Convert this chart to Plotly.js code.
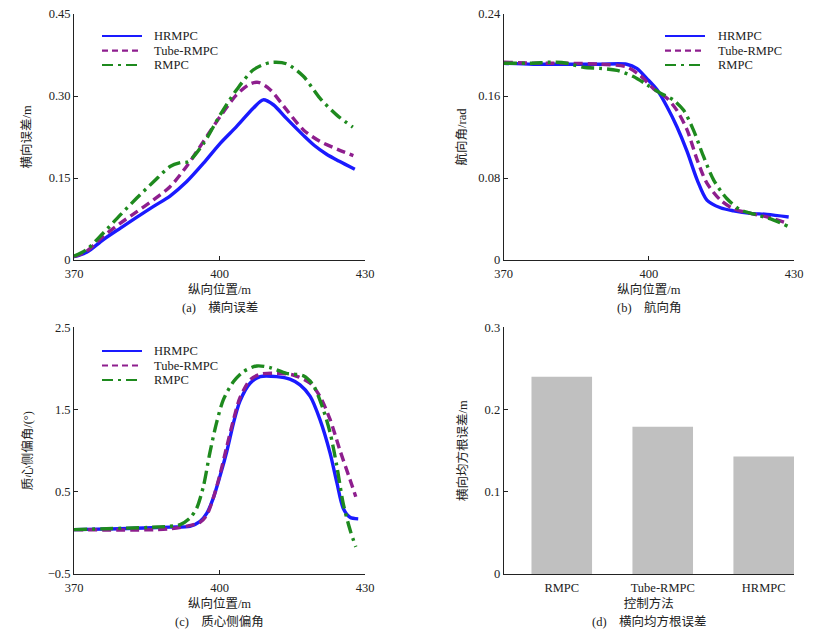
<!DOCTYPE html>
<html>
<head>
<meta charset="utf-8">
<script src="https://cdn.plot.ly/plotly-3.0.1.min.js"></script>
<style>html,body{margin:0;padding:0;background:#fff;}#chart{width:825px;height:643px;}</style>
</head>
<body>
<div id="chart"></div>
<script>
// ---------- data ----------
const seriesNames = ["HRMPC", "Tube-RMPC", "RMPC"];

// (a) lateral error
const aX_hrmpc = [370, 372.6, 376.0, 379.5, 382.9, 386.4, 389.8, 393.2, 396.7, 400.1, 403.5, 407.0, 409.0, 411.1, 413.8, 417.3, 419.5, 422.0, 424.6, 427.9];
const aY_hrmpc = [0.006, 0.014, 0.037, 0.058, 0.078, 0.098, 0.117, 0.143, 0.177, 0.213, 0.244, 0.278, 0.293, 0.284, 0.259, 0.228, 0.210, 0.194, 0.181, 0.166];
const aX_tube = [370, 372.6, 376.0, 379.5, 382.9, 386.4, 389.8, 393.2, 396.7, 400.1, 403.5, 406.3, 408.0, 410.4, 413.8, 417.3, 420.7, 424.2, 427.6];
const aY_tube = [0.006, 0.016, 0.043, 0.067, 0.088, 0.110, 0.134, 0.171, 0.217, 0.262, 0.302, 0.322, 0.325, 0.312, 0.275, 0.238, 0.217, 0.203, 0.191];
const aX_rmpc = [370, 372.6, 376.0, 379.5, 382.9, 386.4, 389.8, 391.9, 393.6, 396.7, 400.1, 403.5, 407.0, 410.4, 413.8, 417.3, 420.7, 424.2, 427.5];
const aY_rmpc = [0.007, 0.019, 0.049, 0.082, 0.113, 0.143, 0.171, 0.178, 0.180, 0.213, 0.265, 0.311, 0.348, 0.361, 0.359, 0.336, 0.296, 0.265, 0.243];

// (b) heading angle
const bX_hrmpc = [370, 376.1, 383.0, 389.9, 395.4, 397.5, 399.6, 401.7, 403.7, 405.8, 407.9, 410.0, 412.0, 414.8, 417.5, 421.0, 424.4, 428.9];
const bY_hrmpc = [0.192, 0.191, 0.191, 0.191, 0.191, 0.187, 0.177, 0.166, 0.150, 0.130, 0.106, 0.078, 0.0585, 0.051, 0.048, 0.0455, 0.0445, 0.042];
const bX_tube = [370, 376.1, 379.6, 383.0, 389.9, 395.4, 398.2, 401.0, 403.7, 405.8, 407.9, 410.0, 412.0, 414.8, 417.5, 421.0, 424.4, 428.6];
const bY_tube = [0.193, 0.192, 0.192, 0.192, 0.191, 0.1885, 0.180, 0.167, 0.158, 0.146, 0.127, 0.0975, 0.075, 0.0585, 0.050, 0.0455, 0.042, 0.036];
const bX_rmpc = [370, 376.1, 379.6, 383.0, 386.5, 389.9, 393.4, 396.8, 399.6, 402.3, 405.1, 407.2, 409.2, 411.3, 413.4, 416.1, 418.9, 422.3, 425.8, 428.7];
const bY_rmpc = [0.192, 0.192, 0.193, 0.192, 0.188, 0.187, 0.185, 0.179, 0.171, 0.163, 0.156, 0.146, 0.127, 0.101, 0.078, 0.060, 0.049, 0.044, 0.039, 0.033];

// (c) sideslip angle
const cX_hrmpc = [370, 379.5, 389.8, 393.9, 396.0, 397.4, 398.7, 400.1, 401.5, 402.9, 404.2, 406.3, 408.4, 411.8, 414.5, 416.6, 418.7, 420.7, 422.8, 424.2, 425.5, 426.9, 428.6];
const cY_hrmpc = [0.04, 0.05, 0.07, 0.08, 0.14, 0.24, 0.42, 0.69, 0.99, 1.34, 1.60, 1.82, 1.90, 1.90, 1.87, 1.80, 1.66, 1.38, 0.97, 0.61, 0.30, 0.19, 0.17];
const cX_tube = [370, 389.8, 396.0, 397.4, 398.7, 400.1, 401.5, 402.9, 404.2, 406.3, 408.4, 411.8, 415.2, 418.7, 420.7, 422.8, 424.8, 426.9, 428.1];
const cY_tube = [0.04, 0.05, 0.13, 0.22, 0.42, 0.71, 1.05, 1.38, 1.64, 1.86, 1.93, 1.94, 1.92, 1.82, 1.66, 1.38, 1.01, 0.65, 0.44];
const cX_rmpc = [370, 389.8, 391.9, 393.9, 395.3, 396.7, 398.0, 399.4, 400.8, 402.9, 404.9, 407.7, 410.4, 413.8, 417.3, 419.3, 421.4, 422.8, 424.2, 425.5, 426.9, 428.1];
const cY_rmpc = [0.04, 0.08, 0.10, 0.18, 0.30, 0.57, 0.97, 1.34, 1.62, 1.84, 1.96, 2.03, 2.01, 1.94, 1.91, 1.80, 1.50, 1.22, 0.81, 0.36, 0.04, -0.17];

// (d) lateral RMS error
const dCategories = ["RMPC", "Tube-RMPC", "HRMPC"];
const dValues = [0.240, 0.179, 0.143];

// tick labels
const xTicks = [370, 400, 430];
const aTicks = [0, 0.15, 0.30, 0.45];
const aTickText = ["0", "0.15", "0.30", "0.45"];
const bTicks = [0, 0.08, 0.16, 0.24];
const bTickText = ["0", "0.08", "0.16", "0.24"];
const cTicks = [-0.5, 0.5, 1.5, 2.5];
const cTickText = ["\u22120.5", "0.5", "1.5", "2.5"];
const dTicks = [0, 0.1, 0.2, 0.3];
const dTickText = ["0", "0.1", "0.2", "0.3"];

// ---------- styles ----------
const FONT = "Liberation Serif, 'Noto Sans CJK SC', serif";
const colors = {"HRMPC": "#1a1aff", "Tube-RMPC": "#8e1e8e", "RMPC": "#1e8a1e"};
const dashes = {"HRMPC": "solid", "Tube-RMPC": "9px,5px", "RMPC": "13px,5px,3px,5px"};
const W = 825, H = 643;
const px = v => v / W;
const py = v => 1 - v / H;

function line(x, y, name, xa, ya) {
  return {
    type: "scatter", mode: "lines", x: x, y: y, name: name,
    xaxis: xa, yaxis: ya, showlegend: false,
    line: {color: colors[name], width: 3.4, dash: dashes[name], shape: "spline", smoothing: 0.8},
    hoverinfo: "x+y+name"
  };
}

const traces = [
  line(aX_hrmpc, aY_hrmpc, "HRMPC", "x", "y"),
  line(aX_tube, aY_tube, "Tube-RMPC", "x", "y"),
  line(aX_rmpc, aY_rmpc, "RMPC", "x", "y"),
  line(bX_hrmpc, bY_hrmpc, "HRMPC", "x2", "y2"),
  line(bX_tube, bY_tube, "Tube-RMPC", "x2", "y2"),
  line(bX_rmpc, bY_rmpc, "RMPC", "x2", "y2"),
  line(cX_hrmpc, cY_hrmpc, "HRMPC", "x3", "y3"),
  line(cX_tube, cY_tube, "Tube-RMPC", "x3", "y3"),
  line(cX_rmpc, cY_rmpc, "RMPC", "x3", "y3"),
  {type: "bar", x: dCategories, y: dValues, xaxis: "x4", yaxis: "y4", showlegend: false,
   marker: {color: "#c0c0c0", line: {width: 0}}, width: 0.6}
];

const tickFont = {family: FONT, size: 12.5, color: "#222"};
const titleFont = {family: FONT, size: 12.5, color: "#222"};

function xAxis(domain, anchor, titleText) {
  return {
    domain: domain, anchor: anchor, range: [370, 430],
    tickmode: "array", tickvals: xTicks, ticktext: xTicks.map(String),
    ticks: "inside", ticklen: 4, tickcolor: "#222", tickwidth: 1,
    showline: true, linecolor: "#222", linewidth: 1,
    showgrid: false, zeroline: false, tickfont: tickFont, ticklabelstandoff: 2,
    title: {text: titleText, font: titleFont, standoff: 5},
    automargin: false, fixedrange: true
  };
}
function yAxis(domain, anchor, range, vals, txt, titleText, standoff) {
  return {
    domain: domain, anchor: anchor, range: range,
    tickmode: "array", tickvals: vals, ticktext: txt,
    ticks: "inside", ticklen: 4, tickcolor: "#222", tickwidth: 1,
    showline: true, linecolor: "#222", linewidth: 1,
    showgrid: false, zeroline: false, tickfont: tickFont,
    title: {text: titleText, font: titleFont, standoff: standoff},
    automargin: false, fixedrange: true
  };
}

const leftX = [px(74), px(365)];
const rightX = [px(503.7), px(794)];
const topY = [py(260), py(14)];
const botY = [py(574), py(327.3)];

const layout = {
  width: W, height: H,
  margin: {l: 0, r: 0, t: 0, b: 0, pad: 0},
  paper_bgcolor: "#fff", plot_bgcolor: "#fff",
  font: {family: FONT, size: 12, color: "#222"},
  showlegend: false,
  xaxis: xAxis(leftX, "y", "纵向位置/m"),
  yaxis: yAxis(topY, "x", [0, 0.45], aTicks, aTickText, "横向误差/m", 14),
  xaxis2: xAxis(rightX, "y2", "纵向位置/m"),
  yaxis2: yAxis(topY, "x2", [0, 0.24], bTicks, bTickText, "航向角/rad", 8),
  xaxis3: xAxis(leftX, "y3", "纵向位置/m"),
  yaxis3: yAxis(botY, "x3", [-0.5, 2.5], cTicks, cTickText, "质心侧偏角/(°)", 12),
  xaxis4: {
    domain: rightX, anchor: "y4", type: "category", range: [-0.575, 2.3],
    ticks: "", showline: true, linecolor: "#222", linewidth: 1,
    showgrid: false, zeroline: false, tickfont: tickFont, ticklabelstandoff: 2,
    title: {text: "控制方法", font: titleFont, standoff: 5},
    automargin: false, fixedrange: true
  },
  yaxis4: yAxis(botY, "x4", [0, 0.3], dTicks, dTickText, "横向均方根误差/m", 14),
  shapes: [],
  annotations: []
};

// captions
const captions = [
  {text: "(a)\u2002\u2002横向误差", x: 220, y: 307},
  {text: "(b)\u2002\u2002航向角", x: 649, y: 307},
  {text: "(c)\u2002\u2002质心侧偏角", x: 219, y: 621.5},
  {text: "(d)\u2002\u2002横向均方根误差", x: 649, y: 621.5}
];
captions.forEach(c => layout.annotations.push({
  xref: "paper", yref: "paper", x: px(c.x), y: py(c.y), xanchor: "center", yanchor: "middle",
  text: c.text, showarrow: false, font: {family: FONT, size: 12.5, color: "#222"}
}));

// manual legends (line sample + label)
const legendSpots = [
  {x0: 102, x1: 142, xt: 152, rows: [36, 50.7, 65]},
  {x0: 665, x1: 705, xt: 716, rows: [36, 50.7, 65]},
  {x0: 102, x1: 142, xt: 152, rows: [351, 365.5, 380]}
];
legendSpots.forEach(L => {
  seriesNames.forEach((n, i) => {
    layout.shapes.push({
      type: "line", xref: "paper", yref: "paper",
      x0: px(L.x0), x1: px(L.x1), y0: py(L.rows[i]), y1: py(L.rows[i]),
      line: {color: colors[n], width: 2.2, dash: n === "Tube-RMPC" ? "6px,4px" : (n === "RMPC" ? "11px,5px,3px,5px" : "solid")}
    });
    layout.annotations.push({
      xref: "paper", yref: "paper", x: px(L.xt), y: py(L.rows[i]), xanchor: "left", yanchor: "middle",
      text: n, showarrow: false, font: {family: FONT, size: 12.5, color: "#222"}
    });
  });
});

Plotly.newPlot("chart", traces, layout, {staticPlot: true, displayModeBar: false});
</script>
</body>
</html>
